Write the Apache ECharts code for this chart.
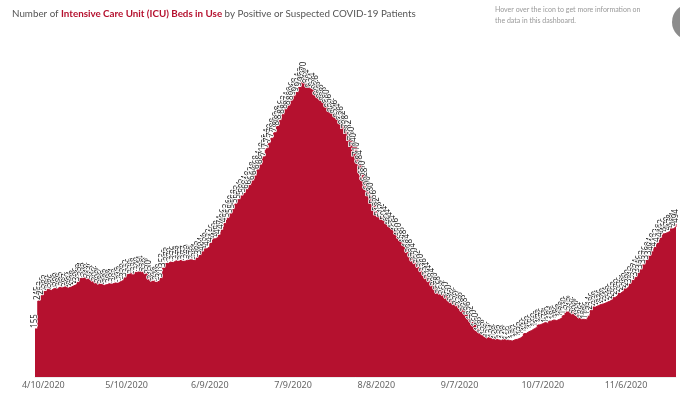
<!DOCTYPE html>
<html>
<head>
<meta charset="utf-8">
<script src="https://cdn.jsdelivr.net/npm/echarts@6/dist/echarts.min.js"></script>
<style>
  html, body { margin: 0; padding: 0; background: #fff; }
  #chart { width: 680px; height: 396px; }
</style>
</head>
<body>
<div id="chart"></div>
<script>
// first day in the data is 4/7/2020, one value per day through 11/24/2020
var startDate = new Date(2020, 3, 7)
var dayCount = 232

// ICU beds in use
var icuBeds = [
  155, 245, 262, 276, 283, 280, 286, 284, 290, 288,
  292, 287, 290, 294, 298, 306, 318, 324, 322, 318,
  314, 312, 306, 300, 296, 298, 302, 300, 304, 303,
  308, 312, 320, 332, 336, 330, 338, 340, 344, 338,
  336, 330, 312, 306, 310, 318, 352, 366, 372, 370,
  376, 374, 378, 373, 377, 380, 378, 376, 384, 392,
  404, 414, 420, 432, 446, 450, 458, 474, 496, 512,
  526, 540, 558, 572, 584, 592, 604, 618, 632, 648,
  668, 684, 710, 736, 754, 770, 788, 808, 828, 846,
  862, 874, 890, 906, 918, 934, 952, 970, 944, 930,
  934, 926, 906, 896, 888, 880, 866, 852, 846, 834,
  826, 812, 798, 782, 760, 740, 710, 684, 650, 628,
  600, 580, 556, 532, 518, 512, 504, 494, 484, 474,
  466, 450, 436, 428, 414, 398, 384, 370, 362, 350,
  336, 324, 314, 304, 290, 278, 266, 264, 260, 250,
  242, 236, 230, 226, 218, 208, 196, 182, 170, 160,
  146, 138, 132, 126, 122, 124, 120, 118, 122, 120,
  118, 116, 120, 122, 126, 132, 140, 146, 150, 156,
  160, 168, 172, 176, 172, 180, 184, 182, 186, 190,
  198, 210, 216, 212, 206, 200, 194, 186, 184, 196,
  214, 226, 230, 234, 236, 240, 244, 248, 256, 262,
  270, 276, 284, 290, 300, 312, 322, 334, 346, 362,
  376, 390, 404, 418, 432, 448, 462, 466, 470, 478,
  484, 494
]

var tickLabels = ['4/10/2020', '5/10/2020', '6/9/2020', '7/9/2020', '8/8/2020', '9/7/2020', '10/7/2020', '11/6/2020']

var dates = []
for (var i = 0; i < dayCount; i++) {
  var d = new Date(startDate.getTime())
  d.setDate(d.getDate() + i)
  dates.push((d.getMonth() + 1) + '/' + d.getDate() + '/' + d.getFullYear())
}

var red = '#b5112f'

var myechart = echarts.init(document.getElementById('chart'))
myechart.setOption({
  animation: false,
  title: [
    {
      left: 7,
      top: 4,
      text: '{n|Number of }{b|Intensive Care Unit (ICU) Beds in Use}{n| by Positive or Suspected COVID-19 Patients}',
      textStyle: {
        rich: {
          n: { fontFamily: 'Lato', fontSize: 9.8, fontWeight: 'normal', color: '#555' },
          b: { fontFamily: 'Lato', fontSize: 9.8, fontWeight: 'bold', color: red }
        }
      }
    },
    {
      left: 490,
      top: -1,
      text: 'Hover over the icon to get more information on\nthe data in this dashboard.',
      textStyle: { fontFamily: 'Lato', fontSize: 7, fontWeight: 'normal', color: '#999', lineHeight: 11 }
    }
  ],
  graphic: [
    { type: 'circle', shape: { cx: 690, cy: 22, r: 18 }, style: { fill: '#8c8c8c' } }
  ],
  grid: { left: 35, right: 4, top: 67, bottom: 19 },
  xAxis: {
    type: 'category',
    data: dates,
    boundaryGap: false,
    axisTick: { show: false },
    axisLine: { lineStyle: { color: '#ececec' } },
    axisLabel: {
      interval: function (idx) { return idx >= 3 && (idx - 3) % 30 === 0 },
      fontFamily: 'Noto Sans',
      fontSize: 9,
      color: '#666',
      margin: 4
    }
  },
  yAxis: {
    type: 'value',
    min: 0,
    max: 1000,
    show: false,
    splitLine: { show: false }
  },
  series: [
    {
      type: 'line',
      step: 'end',
      data: icuBeds,
      showSymbol: true,
      showAllSymbol: true,
      symbolSize: 0,
      lineStyle: { color: red, width: 1 },
      itemStyle: { color: red },
      areaStyle: { color: red, opacity: 1 },
      label: {
        show: true,
        position: 'top',
        rotate: 90,
        align: 'left',
        verticalAlign: 'middle',
        distance: 1,
        fontFamily: 'Noto Sans',
        fontSize: 8,
        color: '#222',
        textBorderColor: '#fff',
        textBorderWidth: 1.5
      }
    }
  ]
})
</script>
</body>
</html>
